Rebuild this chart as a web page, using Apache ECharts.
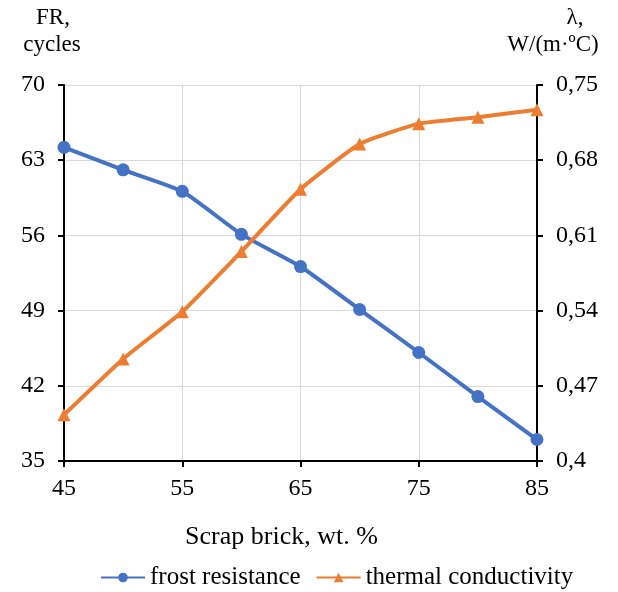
<!DOCTYPE html>
<html><head><meta charset="utf-8">
<script src="https://cdn.jsdelivr.net/npm/echarts@6/dist/echarts.min.js"></script>
<style>html,body{margin:0;padding:0;background:#fff}#c{width:618px;height:592px}</style>
</head><body><div id="c"></div>
<script>
const categories = [45, 50, 55, 60, 65, 70, 75, 80, 85];
const frostResistance = [64.2, 62.1, 60.1, 56.1, 53.1, 49.1, 45.1, 41.0, 37.0];
const thermalConductivity = [0.443, 0.495, 0.539, 0.595, 0.653, 0.695, 0.714, 0.720, 0.727];
const xTicks = [45, 55, 65, 75, 85];
const leftTicks = [35, 42, 49, 56, 63, 70];
const rightTicks = [0.4, 0.47, 0.54, 0.61, 0.68, 0.75];

const font = 'Liberation Serif';
const chart = echarts.init(document.getElementById('c'), null, {renderer: 'canvas'});
const fmtComma = v => parseFloat(v.toFixed(2)).toString().replace('.', ',');
const titleFont = '23px "Liberation Serif"';

chart.setOption({
  animation: false,
  backgroundColor: '#fff',
  grid: {left: 64, right: 81, top: 85, bottom: 131, containLabel: false},
  graphic: [
    {type: 'text', x: 53, y: 6, style: {text: 'FR,', font: titleFont, fill: '#000', textAlign: 'center'}},
    {type: 'text', x: 52, y: 33, style: {text: 'cycles', font: titleFont, fill: '#000', textAlign: 'center'}},
    {type: 'text', x: 575, y: 6, style: {text: 'λ,', font: titleFont, fill: '#000', textAlign: 'center'}},
    {type: 'text', x: 553, y: 33, style: {text: 'W/(m·ºC)', font: titleFont, fill: '#000', textAlign: 'center'}}
  ],
  legend: {
    bottom: -3, left: 95,
    itemWidth: 44, itemHeight: 12, itemGap: 15,
    textStyle: {fontFamily: font, fontSize: 25, color: '#000'},
    data: ['frost resistance', 'thermal conductivity']
  },
  xAxis: {
    type: 'value', min: 45, max: 85, interval: 10,
    name: 'Scrap brick, wt. %', nameLocation: 'middle', nameGap: 63,
    nameTextStyle: {fontFamily: font, fontSize: 26, color: '#000', padding: [0, 38, 0, 0]},
    axisLine: {show: true, onZero: false, lineStyle: {color: '#000', width: 2}},
    axisTick: {show: true, length: 6, lineStyle: {color: '#000', width: 2}},
    axisLabel: {fontFamily: font, fontSize: 24, color: '#000', margin: 16,
      customValues: xTicks},
    splitLine: {show: true, lineStyle: {color: '#d9d9d9', width: 1}}
  },
  yAxis: [
    {
      type: 'value', min: 35, max: 70, interval: 7, position: 'left',
      axisLine: {show: true, lineStyle: {color: '#000', width: 2}},
      axisTick: {show: true, length: 6, lineStyle: {color: '#000', width: 2}},
      axisLabel: {fontFamily: font, fontSize: 24, color: '#000', margin: 19},
      splitLine: {show: true, lineStyle: {color: '#d9d9d9', width: 1}}
    },
    {
      type: 'value', min: 0.4, max: 0.75, position: 'right', alignTicks: true,
      axisLine: {show: true, lineStyle: {color: '#000', width: 2}},
      axisTick: {show: true, length: 6, lineStyle: {color: '#000', width: 2}},
      axisLabel: {fontFamily: font, fontSize: 24, color: '#000', margin: 19, formatter: fmtComma},
      splitLine: {show: false}
    }
  ],
  series: [
    {
      name: 'frost resistance', type: 'line', yAxisIndex: 0,
      data: categories.map((c, i) => [c, frostResistance[i]]),
      symbol: 'circle', symbolSize: 13,
      lineStyle: {color: '#4472C4', width: 4},
      itemStyle: {color: '#4472C4'},
      smooth: 0.15
    },
    {
      name: 'thermal conductivity', type: 'line', yAxisIndex: 1,
      data: categories.map((c, i) => [c, thermalConductivity[i]]),
      symbol: 'triangle', symbolSize: 13,
      lineStyle: {color: '#ED7D31', width: 4},
      itemStyle: {color: '#ED7D31'},
      smooth: 0.15
    }
  ]
});
</script></body></html>
